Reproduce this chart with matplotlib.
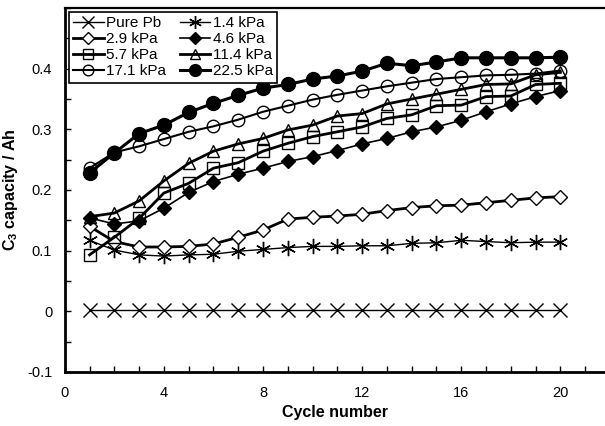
import numpy as np
import matplotlib
matplotlib.use("Agg")
import matplotlib.pyplot as plt
from matplotlib.ticker import MultipleLocator

plt.rcParams['font.family'] = ['Liberation Sans', 'DejaVu Sans']
plt.rcParams['mathtext.fontset'] = 'custom'
plt.rcParams['mathtext.rm'] = 'Liberation Sans:bold'
plt.rcParams['mathtext.bf'] = 'Liberation Sans:bold'

cycles = np.arange(1, 21)

pure_pb = [0.002] * 20
kpa_1_4 = [0.117, 0.101, 0.093, 0.091, 0.093, 0.094, 0.099, 0.102, 0.105, 0.107,
           0.107, 0.108, 0.108, 0.112, 0.113, 0.117, 0.115, 0.113, 0.114, 0.114]
kpa_2_9 = [0.140, 0.115, 0.106, 0.106, 0.107, 0.111, 0.122, 0.134, 0.152, 0.155,
           0.157, 0.160, 0.166, 0.171, 0.174, 0.175, 0.179, 0.183, 0.187, 0.189]
kpa_4_6 = [0.154, 0.144, 0.149, 0.170, 0.196, 0.214, 0.226, 0.236, 0.247, 0.255,
           0.265, 0.276, 0.285, 0.296, 0.304, 0.315, 0.329, 0.342, 0.354, 0.364]
kpa_5_7 = [0.093, 0.122, 0.153, 0.195, 0.211, 0.236, 0.245, 0.264, 0.277, 0.288,
           0.296, 0.304, 0.318, 0.324, 0.339, 0.340, 0.354, 0.355, 0.374, 0.376]
kpa_11_4 = [0.156, 0.162, 0.182, 0.215, 0.244, 0.264, 0.276, 0.285, 0.299, 0.307,
            0.322, 0.326, 0.342, 0.350, 0.358, 0.366, 0.374, 0.375, 0.390, 0.394]
kpa_17_1 = [0.236, 0.262, 0.272, 0.284, 0.296, 0.305, 0.316, 0.329, 0.339, 0.349,
            0.357, 0.364, 0.371, 0.377, 0.383, 0.386, 0.389, 0.390, 0.392, 0.397]
kpa_22_5 = [0.228, 0.261, 0.293, 0.307, 0.328, 0.343, 0.356, 0.368, 0.374, 0.383,
            0.388, 0.396, 0.409, 0.405, 0.411, 0.418, 0.418, 0.418, 0.418, 0.419]

labels = ['Pure Pb', '1.4 kPa', '2.9 kPa', '4.6 kPa',
          '5.7 kPa', '11.4 kPa', '17.1 kPa', '22.5 kPa']

fig = plt.figure(figsize=(6.05, 4.26), dpi=100)
ax = fig.add_axes([0.107, 0.127, 0.893, 0.854])

# (data, marker, size, face, linewidth)
styles = [
    (pure_pb, 'x', 10, 'none', 1.0),
    (kpa_1_4, (6, 2, 0), 11, 'none', 1.0),
    (kpa_2_9, 'D', 7, 'white', 2.0),
    (kpa_4_6, 'D', 7, 'black', 1.2),
    (kpa_5_7, 's', 8.5, 'none', 2.0),
    (kpa_11_4, '^', 9, 'none', 2.0),
    (kpa_17_1, 'o', 9, 'none', 1.5),
    (kpa_22_5, 'o', 10, 'black', 2.2),
]

handles = []
for (vals, mk, ms, fc, lw), lab in zip(styles, labels):
    h, = ax.plot(cycles, vals, color='black', lw=lw, marker=mk, ms=ms,
                 mfc=fc, mec='black', mew=1.0, label=lab)
    handles.append(h)

ax.set_xlim(0, 21.8)
ax.set_ylim(-0.1, 0.5)
ax.xaxis.set_major_locator(MultipleLocator(4))
ax.xaxis.set_minor_locator(MultipleLocator(1))
ax.yaxis.set_minor_locator(MultipleLocator(0.05))
ax.set_yticks([-0.1, 0, 0.1, 0.2, 0.3, 0.4])
ax.set_yticklabels(['-0.1', '0', '0.1', '0.2', '0.3', '0.4'])
ax.tick_params(which='both', direction='in', length=4, width=1, labelsize=10.5)
ax.tick_params(axis='x', pad=10)
ax.tick_params(axis='y', pad=9)

ax.spines['right'].set_visible(False)
ax.spines['left'].set_linewidth(2)
ax.spines['bottom'].set_linewidth(2)
ax.spines['top'].set_linewidth(1.6)

ax.set_xlabel('Cycle number', fontsize=11.5, fontweight='bold', labelpad=4)
ax.set_ylabel(r'C$_\mathbf{3}$ capacity / Ah', fontsize=11.5, fontweight='bold', labelpad=5)

order = [0, 2, 4, 6, 1, 3, 5, 7]
leg = ax.legend([handles[i] for i in order], [labels[i] for i in order],
                ncol=2, loc='upper left', bbox_to_anchor=(0.0, 1.0),
                borderaxespad=0.25,
                fancybox=False, edgecolor='black', framealpha=1,
                fontsize=11, handlelength=2.0, handletextpad=0.15,
                columnspacing=0.9, labelspacing=0.12, borderpad=0.3,
                markerscale=0.85)
leg.get_frame().set_linewidth(1.2)

fig.savefig('out.png', dpi=100)
